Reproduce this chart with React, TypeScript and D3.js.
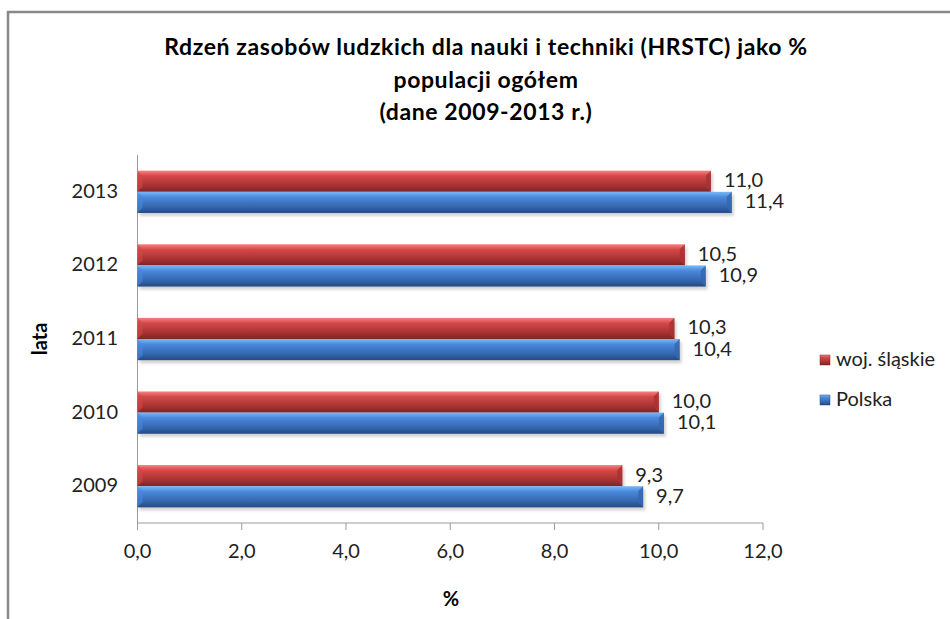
import React from "react";
import * as d3 from "d3";

const years = ["2013", "2012", "2011", "2010", "2009"];
const seriesNames = ["woj. śląskie", "Polska"];
const slaskie = [11.0, 10.5, 10.3, 10.0, 9.3];
const polska = [11.4, 10.9, 10.4, 10.1, 9.7];
const xTicks = [0, 2, 4, 6, 8, 10, 12];
const titleLines = [
  "Rdzeń zasobów ludzkich dla nauki i techniki (HRSTC) jako %",
  "populacji ogółem",
  "(dane 2009-2013 r.)",
];

const W = 950;
const H = 619;
const FONT = "Lato, 'Open Sans', sans-serif";

const PLOT = { left: 137.5, right: 763, top: 155, bottom: 523 };

const COLORS = [
  { id: "gRed", light: "#f88282", mid: "#d44848", dark: "#a83232", edge: "#7e2424" },
  { id: "gBlue", light: "#79b9f6", mid: "#4a89dc", dark: "#3567b0", edge: "#244a80" },
];

const fmt = (v: number) => d3.format(".1f")(v).replace(".", ",");

export default function App() {
  const x = d3.scaleLinear().domain([0, 12]).range([PLOT.left, PLOT.right]);
  const y = d3.scaleBand<string>().domain(years).range([PLOT.top, PLOT.bottom]).paddingInner(0.425).paddingOuter(0.2125);
  const inner = d3.scaleBand<number>().domain([0, 1]).range([0, y.bandwidth()]);
  const values = [slaskie, polska];

  const bar = (s: number, i: number) => {
    const v = values[s][i];
    const x0 = x(0);
    const x1 = x(v);
    const y0 = (y(years[i]) ?? 0) + (inner(s) ?? 0);
    const h = inner.bandwidth();
    const y1 = y0 + h;
    const c = COLORS[s];
    const b = 5;
    return (
      <g key={`${s}-${i}`}>
        <rect x={x0 + 2} y={y0 + 3} width={x1 - x0} height={h} fill="#000" opacity={0.18} filter="url(#blur)" />
        <rect x={x0} y={y0} width={x1 - x0} height={h} fill={`url(#${c.id})`} />
        <polygon points={`${x1 - b},${y0 + b} ${x1},${y0} ${x1},${y1} ${x1 - b},${y1 - b}`} fill={c.dark} opacity={0.85} />
        <polygon points={`${x0},${y0} ${x0 + b},${y0 + b} ${x0 + b},${y1 - b} ${x0},${y1}`} fill={c.mid} opacity={0.6} />
        <text x={x1 + 13} y={y0 + h / 2 + 1} dominantBaseline="middle" fontSize={20} fontFamily={FONT} fill="#222">
          {fmt(v)}
        </text>
      </g>
    );
  };

  return (
    <svg width={W} height={H} style={{ position: "absolute", left: 0, top: 0, background: "#fff" }}>
      <defs>
        {COLORS.map((c) => (
          <linearGradient key={c.id} id={c.id} x1="0" y1="0" x2="0" y2="1">
            <stop offset="0%" stopColor={c.light} />
            <stop offset="25%" stopColor={c.mid} />
            <stop offset="70%" stopColor={c.dark} />
            <stop offset="100%" stopColor={c.edge} />
          </linearGradient>
        ))}
        <filter id="blur" x="-5%" y="-50%" width="110%" height="200%">
          <feGaussianBlur stdDeviation="1.5" />
        </filter>
      </defs>

      {/* frame, cut off at right and bottom */}
      <path d={`M8,${H} V12 H${W}`} fill="none" stroke="#888" strokeWidth={2.5} />

      {titleLines.map((t, i) => (
        <text key={i} x={486} y={55 + i * 32.5} textAnchor="middle" fontSize={23} fontWeight="bold" letterSpacing={0.6} fontFamily={FONT} fill="#000">
          {t}
        </text>
      ))}

      {/* axes */}
      <line x1={PLOT.left} x2={PLOT.left} y1={PLOT.top} y2={PLOT.bottom + 7} stroke="#9a9a9a" strokeWidth={1} />
      <line x1={PLOT.left} x2={PLOT.right} y1={PLOT.bottom} y2={PLOT.bottom} stroke="#9a9a9a" strokeWidth={1} />
      {xTicks.map((t) => (
        <g key={t}>
          <line x1={x(t)} x2={x(t)} y1={PLOT.bottom} y2={PLOT.bottom + 7} stroke="#9a9a9a" />
          <text x={x(t)} y={558} textAnchor="middle" fontSize={20} fontFamily={FONT} fill="#222">
            {fmt(t)}
          </text>
        </g>
      ))}
      {years.map((yr) => (
        <text key={yr} x={118} y={(y(yr) ?? 0) + y.bandwidth() / 2 + 1} textAnchor="end" dominantBaseline="middle" fontSize={20} fontFamily={FONT} fill="#222">
          {yr}
        </text>
      ))}

      {years.map((_, i) => [0, 1].map((s) => bar(s, i)))}

      <text transform={`translate(47,${(PLOT.top + PLOT.bottom) / 2}) rotate(-90)`} textAnchor="middle" fontSize={20} fontWeight="bold" fontFamily={FONT} fill="#000">
        lata
      </text>
      <text x={451} y={606} textAnchor="middle" fontSize={20} fontWeight="bold" fontFamily={FONT} fill="#000">
        %
      </text>

      {seriesNames.map((n, s) => (
        <g key={n} transform={`translate(820,${355 + s * 40})`}>
          <rect width={10} height={10} fill={`url(#${COLORS[s].id})`} stroke={COLORS[s].edge} strokeWidth={0.5} />
          <text x={16} y={5.5} dominantBaseline="middle" fontSize={20} fontFamily={FONT} fill="#222">
            {n}
          </text>
        </g>
      ))}
    </svg>
  );
}
